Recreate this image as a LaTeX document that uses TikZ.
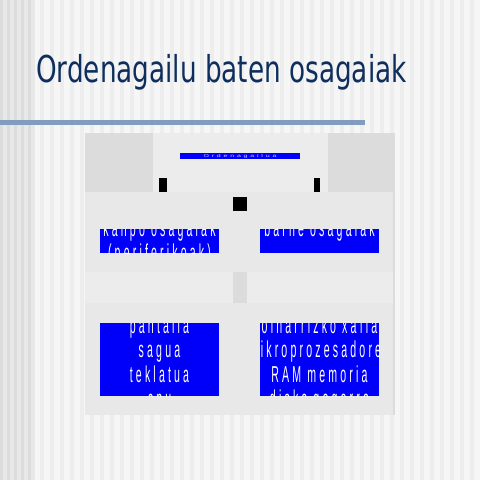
\documentclass[tikz,border=0pt]{standalone}
\usepackage{fontspec}
\setmainfont{DejaVu Sans}
\newfontfamily\boxfont[LetterSpace=30]{Liberation Sans}
\newfontfamily\barfont[LetterSpace=40]{Liberation Sans}
\definecolor{titleblue}{RGB}{14,46,94}
\definecolor{rulegray}{RGB}{128,157,190}
\definecolor{boxblue}{RGB}{0,0,250}
\definecolor{panelgray}{RGB}{232,232,232}
\definecolor{cornergray}{RGB}{220,220,220}
\definecolor{lightgray}{RGB}{236,236,236}
\definecolor{bgbase}{RGB}{246,246,246}
\definecolor{bgstripe}{RGB}{237,237,237}
\definecolor{bandbase}{RGB}{232,232,232}
\definecolor{bandstripe}{RGB}{220,220,220}

\begin{document}
\begin{tikzpicture}[x=1pt, y=-1pt,
    area/.style={fill=#1, draw=none, inner sep=0pt, outer sep=0pt, anchor=north west},
    bluebox/.style={fill=boxblue, draw=none, inner sep=0pt, outer sep=0pt,
        anchor=north west, minimum width=119pt},
    stub/.style={fill=black, draw=none, inner sep=0pt, outer sep=0pt, anchor=north west},
    boxtext/.style={text=white, align=center, inner sep=0pt, xscale=0.46,
        font=\boxfont\fontsize{23}{24.5}\selectfont},
    title/.style={text=titleblue, inner sep=0pt, anchor=base west, xscale=0.71,
        font=\fontsize{37}{40}\selectfont}
]
    \useasboundingbox (0,0) rectangle (480,480);
    % background
    \fill[bgbase] (0,0) rectangle (480,480);
    \foreach \x in {0,10,...,470}
        \fill[bgstripe] (\x,0) rectangle ++(4,480);
    \fill[bandbase] (0,0) rectangle (35,480);
    \foreach \x in {0,7,...,28}
        \fill[bandstripe] (\x,0) rectangle ++(3,480);

    \node[title] (title) at (36,82) {Ordenagailu baten osagaiak};
    \coordinate (rulestart) at (0,122.5);
    \coordinate (ruleend) at (365,122.5);
    \draw[rulegray, line width=4.5pt] (rulestart) -- (ruleend);

    % panel
    \node[area=panelgray, minimum width=310pt, minimum height=282pt] (panel) at (85,133) {};
    \node[area=cornergray, minimum width=68pt, minimum height=59pt] (cornerl) at (85,133) {};
    \node[area=cornergray, minimum width=67pt, minimum height=59pt] (cornerr) at (328,133) {};
    \node[area=lightgray, minimum width=175pt, minimum height=59pt] (top) at (153,133) {};
    \node[area=lightgray, minimum width=148pt, minimum height=31pt] (midl) at (85,272) {};
    \node[area=cornergray, minimum width=14pt, minimum height=31pt] (midc) at (233,272) {};
    \node[area=lightgray, minimum width=146pt, minimum height=31pt] (midr) at (247,272) {};
    \node[area=cornergray, minimum width=2pt, minimum height=223pt] (edger) at (393,192) {};

    % top bar
    \node[bluebox, minimum width=120pt, minimum height=6pt] (ordbar) at (180,153) {};
    \begin{scope}
        \clip (ordbar.north west) rectangle (ordbar.south east);
        \node[text=white!80!boxblue, inner sep=0pt, yscale=0.6,
            font=\barfont\fontsize{7}{7}\selectfont] (ordtxt) at (ordbar.center) {Ordenagailua};
    \end{scope}

    % stubs
    \node[stub, minimum width=8pt, minimum height=14pt] (stubl) at (159,178) {};
    \node[stub, minimum width=6pt, minimum height=14pt] (stubr) at (314,178) {};
    \node[stub, minimum width=14pt, minimum height=14pt] (stubc) at (233,197) {};

    % boxes
    \node[bluebox, minimum height=24pt] (kanpo) at (100,229) {};
    \node[bluebox, minimum height=24pt] (barne) at (260,229) {};
    \node[bluebox, minimum height=73pt] (kanpolist) at (100,323) {};
    \node[bluebox, minimum height=73pt] (barnelist) at (260,323) {};

    \begin{scope}
        \clip (kanpo.north west) rectangle (kanpo.south east);
        \node[boxtext, anchor=north] (kanpotxt) at ([yshift=9.5pt]kanpo.north) {kanpo osagaiak\\(periferikoak)};
    \end{scope}
    \begin{scope}
        \clip (barne.north west) rectangle (barne.south east);
        \node[boxtext, anchor=base] (barnetxt) at ([yshift=-7pt]barne.north) {barne osagaiak};
    \end{scope}
    \begin{scope}
        \clip (kanpolist.north west) rectangle (kanpolist.south east);
        \node[boxtext] (kanpolisttxt) at ([yshift=-4.5pt]kanpolist.center) {pantaila\\sagua\\teklatua\\cpu};
    \end{scope}
    \begin{scope}
        \clip (barnelist.north west) rectangle (barnelist.south east);
        \node[boxtext] (barnelisttxt) at ([yshift=-4.5pt]barnelist.center)
            {oinarrizko xafla\\mikroprozesadorea\\RAM memoria\\disko gogorra};
    \end{scope}
\end{tikzpicture}
\end{document}
